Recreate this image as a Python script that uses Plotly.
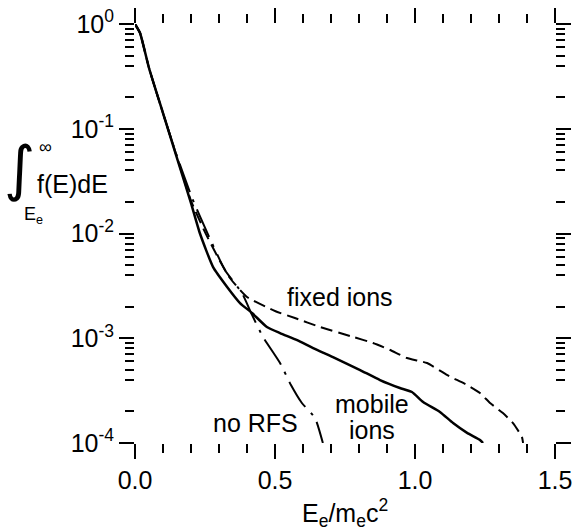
import plotly.graph_objects as go

# ---- data ----
mobile_x = [0.0, 0.018, 0.05, 0.10, 0.15, 0.20, 0.232, 0.279, 0.329, 0.375, 0.418,
            0.471, 0.518, 0.579, 0.636, 0.707, 0.804, 0.875, 0.946, 0.989, 1.029, 1.089,
            1.136, 1.186, 1.232, 1.243]
mobile_y = [1.0, 0.82, 0.38, 0.141, 0.0525, 0.0195, 0.0100, 0.00478, 0.00309, 0.00217,
            0.00174, 0.00128, 0.00112, 0.00096, 0.000806, 0.000662, 0.000497, 0.000399,
            0.000335, 0.000307, 0.000246, 0.000198, 0.000155, 0.000125, 0.000107, 0.0001]

fixed_x = [0.0, 0.018, 0.05, 0.10, 0.15, 0.20, 0.25, 0.295, 0.339, 0.40, 0.50, 0.571,
           0.661, 0.779, 0.85, 0.911, 0.971, 1.043, 1.114, 1.186, 1.232, 1.268, 1.314, 1.35,
           1.382, 1.386]
fixed_y = [1.0, 0.82, 0.38, 0.141, 0.0535, 0.0205, 0.0103, 0.0060, 0.00376, 0.00248,
           0.00182, 0.00156, 0.00128, 0.00103, 0.000901, 0.000773, 0.000648, 0.00058,
           0.000446, 0.000358, 0.0003, 0.000241, 0.000193, 0.000155, 0.000114, 0.0001]

norfs_x = [0.0, 0.018, 0.05, 0.10, 0.15, 0.204, 0.257, 0.321, 0.382, 0.418, 0.457,
           0.518, 0.557, 0.596, 0.643, 0.671]
norfs_y = [1.0, 0.82, 0.38, 0.141, 0.0545, 0.0218, 0.0103, 0.00449, 0.0027, 0.00167,
           0.00103, 0.00058, 0.000358, 0.000241, 0.000173, 0.0001]

x_tickvals = [0.0, 0.5, 1.0, 1.5]
x_ticktext = ["0.0", "0.5", "1.0", "1.5"]
y_tickvals = [1e-4, 1e-3, 1e-2, 1e-1, 1e0]
y_ticktext = ["10<sup>-4</sup>", "10<sup>-3</sup>", "10<sup>-2</sup>", "10<sup>-1</sup>", "10<sup>0</sup>"]

FONT = "Liberation Sans, Arial, Helvetica, sans-serif"

fig = go.Figure()
fig.add_trace(go.Scatter(x=norfs_x, y=norfs_y, mode="lines",
                         line=dict(color="black", width=2, dash="30px,8px,3px,8px",
                                   shape="spline", smoothing=0.5)))
fig.add_trace(go.Scatter(x=fixed_x, y=fixed_y, mode="lines",
                         line=dict(color="black", width=2, dash="12px,6px",
                                   shape="spline", smoothing=0.5)))
fig.add_trace(go.Scatter(x=mobile_x, y=mobile_y, mode="lines",
                         line=dict(color="black", width=2.5, shape="spline", smoothing=0.5)))

# minor tick positions
x_minor_long = [round(0.1 * i, 2) for i in range(1, 15) if i % 5 != 0]
x_minor_short = [round(0.05 + 0.1 * i, 3) for i in range(0, 15)]
y_minor_long = [m * 10.0 ** e for e in range(-4, 0) for m in (2, 4, 5, 6, 7, 8, 9)]
y_minor_short = [m * 10.0 ** e for e in range(-4, 0) for m in (1.5, 3)]

common = dict(showgrid=False, zeroline=False, showline=False, ticks="outside",
              mirror="ticks", tickcolor="black", tickwidth=1.5, automargin=False)

fig.update_layout(
    width=579, height=531,
    margin=dict(l=135, r=24, t=24, b=88),
    paper_bgcolor="white", plot_bgcolor="white",
    showlegend=False,
    font=dict(family=FONT, size=25, color="black"),
    xaxis=dict(range=[0, 1.5], tickvals=x_tickvals, ticktext=x_ticktext, ticklen=15,
               tickfont=dict(size=25), **common,
               minor=dict(tickvals=x_minor_long, ticklen=9, ticks="outside",
                          tickcolor="black", tickwidth=1.5)),
    xaxis2=dict(range=[0, 1.5], overlaying="x", anchor="y", side="bottom",
                tickvals=x_minor_short, ticklen=5, showticklabels=False, **common),
    yaxis=dict(type="log", range=[-4, 0], tickvals=y_tickvals, ticktext=y_ticktext,
               ticklen=15, tickfont=dict(size=25), **common,
               minor=dict(tickvals=y_minor_long, ticklen=9, ticks="outside",
                          tickcolor="black", tickwidth=1.5)),
    yaxis2=dict(type="log", range=[-4, 0], overlaying="y", anchor="x", side="left",
                tickvals=y_minor_short, ticklen=5, showticklabels=False, **common),
)

# curve labels: (text, x in data units, y in paper units)
labels = [
    ("fixed ions", 0.732, 0.348),
    ("mobile", 0.846, 0.093),
    ("ions", 0.846, 0.031),
    ("no RFS", 0.432, 0.048),
]
for t, lx, ly in labels:
    fig.add_annotation(text=t, x=lx, y=ly, xref="x", yref="paper", showarrow=False,
                       xanchor="center", yanchor="middle", font=dict(size=25))

fig.add_annotation(text="E<sub>e</sub>/m<sub>e</sub>c<sup>2</sup>", x=0.5, y=-0.167,
                   xref="paper", yref="paper", showarrow=False,
                   xanchor="center", yanchor="middle", font=dict(size=25))

# y-axis title built from pieces (pixel positions converted to paper coords)
def px(xp):
    return (xp - 135) / 420.0

def py(yp):
    return (443 - yp) / 419.0

fig.add_annotation(text="∫", x=px(20), y=py(168), xref="paper", yref="paper", showarrow=False,
                   font=dict(size=60, family="DejaVu Sans"), xanchor="center", yanchor="middle")
fig.add_annotation(text="∞", x=px(45), y=py(147), xref="paper", yref="paper", showarrow=False,
                   font=dict(size=18), xanchor="center", yanchor="middle")
fig.add_annotation(text="f(E)dE", x=px(72), y=py(184), xref="paper", yref="paper", showarrow=False,
                   font=dict(size=25), xanchor="center", yanchor="middle")
fig.add_annotation(text="E<sub>e</sub>", x=px(33), y=py(215), xref="paper", yref="paper",
                   showarrow=False, font=dict(size=18), xanchor="center", yanchor="middle")

fig.write_html("out.html")
